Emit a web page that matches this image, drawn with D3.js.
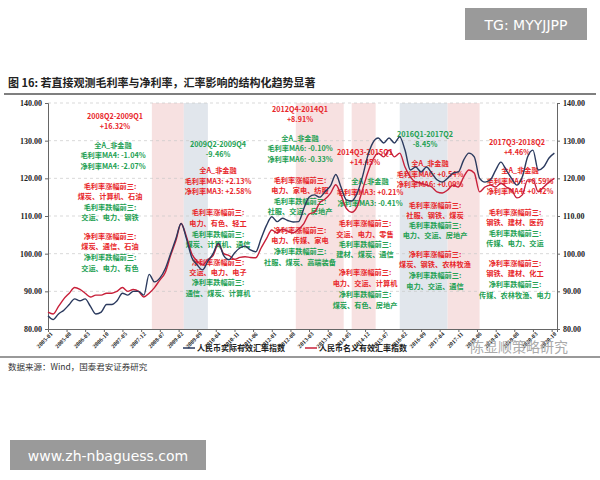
<!DOCTYPE html>
<html><head><meta charset="utf-8">
<script src="https://cdn.jsdelivr.net/npm/d3@7"></script>
<style>body{margin:0;background:#fff}svg{display:block}</style>
</head><body><svg id="c" width="600" height="480"></svg>
<script>
// bimonthly observations 2005-01 .. 2020-11
const startMonth = "2005-01";
const realIndex = [83.5,82.5,84,85,86.5,88,87.5,88,86,84,84.5,86.5,86.5,87.5,89.5,89,90,90,89,94.5,92.5,93.5,96,100,104,108,104,99,97,95.7,98,100,102.8,99.5,98.4,100.2,101.5,102,101,100.5,104,107.5,109.8,108.5,109.4,108.8,108.4,108.5,
112,115,115.6,115,116.5,118,121,117.7,114.3,114,116,120.4,126,129.5,130.7,129.4,130.7,129.4,131,127.5,122.2,123,121.7,123,121.4,119.6,119,120,121.4,121.7,124.9,126.7,125.7,120,119,119.6,122.2,124.3,122.2,120,118.2,120.4,125.7,127.5,122.2,123,125.4,126.7];
const nominalIndex = [84.5,84,86,88,89.5,91,90.5,89.5,88.5,89,89,89.5,89.5,90,91,90,90.5,90,88.5,89.5,91,93,95,99.5,103.5,108,104.5,100,98,97,98.5,99.5,102.5,100,99.5,98.5,99,99.2,99,98.9,101.5,104,106.3,105.5,106.5,106,105.5,106.5,
108,110.5,111,113.5,114.5,116,118.3,115.6,112,111,112.5,116.9,121.5,125,126.7,125.7,127.5,125.7,126.7,123,120.4,119,118.7,118.2,117.7,116.4,116.1,116.9,118.2,117.7,120.4,122.2,121.4,116.4,117.7,118.2,117.7,118.7,117.7,116.9,114.8,115.6,119.6,119.6,116.4,117.7,119,120];
const yTicks = [80,90,100,110,120,130,140];
const xTickLabels = ["2005-01","2005-08","2006-03","2006-10","2007-05","2007-12","2008-07","2009-02","2009-09","2010-04","2010-11","2011-06","2012-01","2012-08","2013-03","2013-10","2014-05","2014-12","2015-07","2016-02","2016-09","2017-04","2017-11","2018-06","2019-01","2019-08","2020-03","2020-10"];
// shaded periods: [start, end, type]
const bands = [["2008-04","2009-04","r"],["2009-04","2010-01","b"],["2012-10","2014-04","r"],["2014-07","2015-04","r"],["2016-01","2017-07","b"],["2017-07","2018-07","r"]];
// annotation blocks: [x, y, colour, text]
const notes = [
[115,119,"r","2008Q2-2009Q1"],[115,129,"r","+16.32%"],
[113,148,"g","全A_非金融"],[113,158,"g","毛利率MA4:  -1.04%"],[113,169,"g","净利率MA4:  -2.07%"],
[110,189,"r","毛利率涨幅前三:"],[110,199,"r","煤炭、计算机、石油"],[110,210,"g","毛利率跌幅前三:"],[110,220,"g","交运、电力、钢铁"],
[110,239,"r","净利率涨幅前三:"],[110,249,"r","煤炭、通信、石油"],[110,260,"g","净利率跌幅前三:"],[110,271,"g","交运、电力、有色"],
[218,147,"g","2009Q2-2009Q4"],[218,157,"g","-9.46%"],
[218,173,"r","全A_非金融"],[218,184,"r","毛利率MA3:  +2.13%"],[218,194,"r","净利率MA3:  +2.58%"],
[218,215,"r","毛利率涨幅前三:"],[218,226,"r","电力、有色、轻工"],[218,237,"g","毛利率跌幅前三:"],[218,247,"g","煤炭、计算机、通信"],
[218,265,"r","净利率涨幅前三:"],[218,275,"r","交运、电力、电子"],[218,285,"g","净利率跌幅前三:"],[218,296,"g","通信、煤炭、计算机"],
[300,112,"r","2012Q4-2014Q1"],[300,122,"r","+8.91%"],
[300,141,"g","全A_非金融"],[300,151,"g","毛利率MA6:  -0.10%"],[300,162,"g","净利率MA6:  -0.33%"],
[300,183,"r","毛利率涨幅前三:"],[300,193,"r","电力、家电、纺服"],[300,204,"g","毛利率跌幅前三:"],[300,214,"g","社服、交运、房地产"],
[300,233,"r","净利率涨幅前三:"],[300,243,"r","电力、传媒、家电"],[300,254,"g","净利率跌幅前三:"],[300,265,"g","社服、煤炭、高端装备"],
[365,155,"r","2014Q3-2015Q1"],[365,165,"r","+14.45%"],
[370,184,"g","全A_非金融"],[370,195,"r","毛利率MA3:  +0.21%"],[370,206,"g","净利率MA3:  -0.41%"],
[365,226,"r","毛利率涨幅前三:"],[365,237,"r","交运、电力、零售"],[365,247,"g","毛利率跌幅前三:"],[365,257,"g","建材、煤炭、通信"],
[365,275,"r","净利率涨幅前三:"],[365,286,"r","电力、交运、计算机"],[365,297,"g","净利率跌幅前三:"],[365,308,"g","煤炭、有色、房地产"],
[425,137,"g","2016Q1-2017Q2"],[425,147,"g","-8.45%"],
[430,166,"r","全A_非金融"],[430,177,"r","毛利率MA6:  +0.54%"],[430,187,"r","净利率MA6:  +0.09%"],
[435,208,"r","毛利率涨幅前三:"],[435,218,"r","社服、钢铁、煤炭"],[435,228,"g","毛利率跌幅前三:"],[435,238,"g","电力、交运、房地产"],
[435,257,"r","净利率涨幅前三:"],[435,267,"r","煤炭、钢铁、农林牧渔"],[435,278,"g","净利率跌幅前三:"],[435,289,"g","电力、交运、通信"],
[517,145,"r","2017Q3-2018Q2"],[517,155,"r","+4.46%"],
[520,173,"r","全A_非金融"],[520,184,"r","毛利率MA4:  +0.59%"],[520,194,"r","净利率MA4:  +0.42%"],
[515,215,"r","毛利率涨幅前三:"],[515,225,"r","钢铁、建材、医药"],[515,236,"g","毛利率跌幅前三:"],[515,246,"g","传媒、电力、交运"],
[515,266,"r","净利率涨幅前三:"],[515,276,"r","钢铁、建材、化工"],[515,287,"g","净利率跌幅前三:"],[515,298,"g","传媒、农林牧渔、电力"]
];
const seriesNames = ["人民币实际有效汇率指数","人民币名义有效汇率指数"];

const svg = d3.select("#c");
const P = d3.timeParse("%Y-%m");
const L = 48, R = 557, T = 103, B = 329;
const dates = realIndex.map((_, i) => d3.timeMonth.offset(P(startMonth), i*2));
const x = d3.scaleTime().domain([P("2005-01"), P("2020-12")]).range([L, R]);
const y = d3.scaleLinear().domain([80,140]).range([B, T]);
const CJK = "'Noto Sans CJK SC', sans-serif";

svg.append("rect").attr("x",465).attr("y",8).attr("width",122).attr("height",32).attr("fill","#9a9a9a");
svg.append("text").attr("x",526).attr("y",30).attr("text-anchor","middle").attr("fill","#fff").attr("font-family","'DejaVu Sans',sans-serif").attr("font-size",14).text("TG: MYYJJPP");
svg.append("rect").attr("x",10).attr("y",440).attr("width",196).attr("height",30).attr("fill","#9a9a9a");
svg.append("text").attr("x",108).attr("y",461).attr("text-anchor","middle").attr("fill","#fff").attr("font-family","'DejaVu Sans',sans-serif").attr("font-size",14).text("www.zh-nbaguess.com");

svg.append("text").attr("x",8).attr("y",87).attr("font-family",CJK).attr("font-weight","bold").attr("font-size",11).attr("fill","#222").text("图 16:  若直接观测毛利率与净利率，汇率影响的结构化趋势显著");
svg.append("line").attr("x1",4).attr("x2",596).attr("y1",94).attr("y2",94).attr("stroke","#555").attr("stroke-width",1.5);

svg.append("g").selectAll("rect").data(bands).join("rect")
  .attr("x", d => x(P(d[0]))).attr("width", d => x(P(d[1])) - x(P(d[0])))
  .attr("y", T).attr("height", B - T)
  .attr("fill", d => d[2]==="r" ? "#f7e1e1" : "#e1e6ec");

svg.append("g").selectAll("line").data(yTicks.slice(1)).join("line")
  .attr("x1",L).attr("x2",R).attr("y1",d=>y(d)).attr("y2",d=>y(d))
  .attr("stroke","#c8c8c8").attr("stroke-dasharray","3,3").attr("stroke-width",0.7);

const fmt = d3.format(".2f");
const ga = svg.append("g").attr("transform",`translate(${L},0)`).call(d3.axisLeft(y).tickValues(yTicks).tickFormat(fmt).tickSize(3));
const gb = svg.append("g").attr("transform",`translate(${R},0)`).call(d3.axisRight(y).tickValues(yTicks).tickFormat(fmt).tickSize(3));
const xt = xTickLabels.map(P);
const gx = svg.append("g").attr("transform",`translate(0,${B})`).call(d3.axisBottom(x).tickValues(xt).tickFormat(d3.timeFormat("%Y-%m")).tickSize(3));
[ga,gb,gx].forEach(g=>{g.selectAll("path,line").attr("stroke","#666");
  g.selectAll("text").attr("font-family","'Liberation Serif',serif").attr("font-weight","bold").attr("font-size",8).attr("fill","#222");});
gx.selectAll("text").attr("font-size",6).attr("text-anchor","end").attr("dx","-0.1em").attr("dy","0.2em").attr("transform","rotate(-45)");

const col = {r:"#e8262a", g:"#22a052"};
svg.append("g").selectAll("text").data(notes).join("text")
  .attr("x",d=>d[0]).attr("y",d=>d[1]).attr("text-anchor","middle")
  .attr("fill",d=>col[d[2]]).attr("font-family",CJK).attr("font-weight","bold").attr("font-size",7.2).text(d=>d[3]);

const line = d3.line().x((d,i)=>x(dates[i])).y(d=>y(d)).curve(d3.curveMonotoneX);
svg.append("path").datum(nominalIndex).attr("d",line).attr("fill","none").attr("stroke","#c8203a").attr("stroke-width",1.4);
svg.append("path").datum(realIndex).attr("d",line).attr("fill","none").attr("stroke","#2b3a5e").attr("stroke-width",1.4);

const lg = [[183,"#2b3a5e"],[305,"#c8203a"]];
lg.forEach((l,i)=>{
  svg.append("line").attr("x1",l[0]).attr("x2",l[0]+12).attr("y1",348).attr("y2",348).attr("stroke",l[1]).attr("stroke-width",1.5);
  svg.append("text").attr("x",l[0]+14).attr("y",351).attr("font-family",CJK).attr("font-weight","bold").attr("font-size",8).attr("fill","#222").text(seriesNames[i]);
});
svg.append("text").attr("x",470).attr("y",352).attr("font-family",CJK).attr("font-size",14).attr("fill","#aaa").text("陈显顺策略研究");
svg.append("line").attr("x1",0).attr("x2",600).attr("y1",357).attr("y2",357).attr("stroke","#777").attr("stroke-width",1.5);
svg.append("text").attr("x",8).attr("y",370).attr("font-family",CJK).attr("font-size",8.5).attr("fill","#333").text("数据来源：Wind，国泰君安证券研究");
</script></body></html>
